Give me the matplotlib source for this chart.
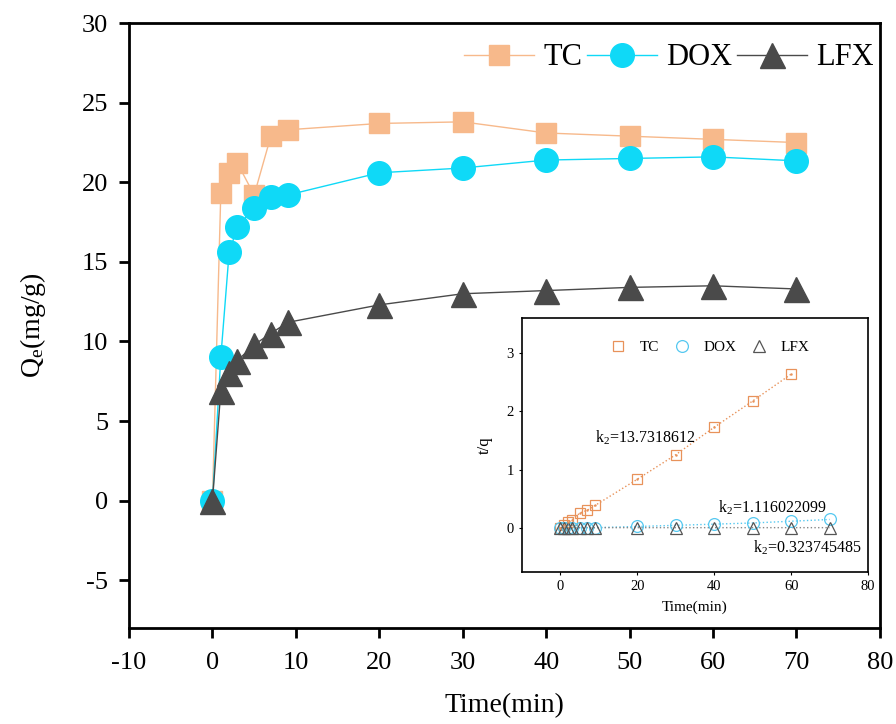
import matplotlib
matplotlib.use("Agg")
import matplotlib.pyplot as plt

plt.rcParams['font.family'] = ['Liberation Serif', 'DejaVu Serif']
plt.rcParams['mathtext.fontset'] = 'custom'
plt.rcParams['mathtext.rm'] = 'Liberation Serif'
plt.rcParams['mathtext.it'] = 'Liberation Serif:italic'
plt.rcParams['axes.unicode_minus'] = False

# ---- main data ----
time = [0, 1, 2, 3, 5, 7, 9, 20, 30, 40, 50, 60, 70]
tc = [0, 19.3, 20.6, 21.2, 19.2, 22.9, 23.3, 23.7, 23.8, 23.1, 22.9, 22.7, 22.5]
dox = [0, 9.0, 15.6, 17.2, 18.4, 19.1, 19.2, 20.6, 20.9, 21.4, 21.5, 21.6, 21.35]
lfx = [0, 6.9, 8.0, 8.8, 9.8, 10.5, 11.2, 12.3, 13.0, 13.2, 13.4, 13.5, 13.3]

# ---- inset data (t/q) ----
t_tc = [0, 1, 2, 3, 5, 7, 9, 20, 30, 40, 50, 60]
tq_tc = [0, 0.05, 0.10, 0.14, 0.26, 0.31, 0.39, 0.84, 1.26, 1.73, 2.18, 2.64]
t_dox = [0, 1, 2, 3, 5, 7, 9, 20, 30, 40, 50, 60, 70]
tq_dox = [0, 0.0, 0.0, 0.0, 0.01, 0.01, 0.01, 0.03, 0.05, 0.07, 0.09, 0.12, 0.15]
t_lfx = [0, 1, 2, 3, 5, 7, 9, 20, 30, 40, 50, 60, 70]
tq_lfx = [0, 0.01, 0.01, 0.01, 0.01, 0.01, 0.01, 0.01, 0.01, 0.01, 0.01, 0.01, 0.01]

xticks_main = [-10, 0, 10, 20, 30, 40, 50, 60, 70, 80]
yticks_main = [-5, 0, 5, 10, 15, 20, 25, 30]
xticks_inset = [0, 20, 40, 60, 80]
yticks_inset = [0, 1, 2, 3]

c_tc, c_dox, c_lfx = '#F7B98B', '#0FD9F7', '#4A4A4A'
ci_tc, ci_dox, ci_lfx = '#E8925A', '#55C8F0', '#555555'

fig = plt.figure(figsize=(8.96, 7.24), dpi=100)
ax = fig.add_axes([0.144, 0.1326, 0.838, 0.8354])

ax.plot(time, tc, '-', color=c_tc, lw=1, marker='s', ms=15, mec=c_tc, mfc=c_tc, label='TC', zorder=3)
ax.plot(time, dox, '-', color=c_dox, lw=1, marker='o', ms=17, mec=c_dox, mfc=c_dox, label='DOX', zorder=4)
ax.plot(time, lfx, '-', color=c_lfx, lw=1, marker='^', ms=18, mec=c_lfx, mfc=c_lfx, label='LFX', zorder=5)

ax.set_xlim(-10, 80)
ax.set_ylim(-8, 30)
ax.set_xticks(xticks_main)
ax.set_yticks(yticks_main)
ax.tick_params(direction='out', length=7, width=2, labelsize=19, top=False, right=False)
ax.tick_params(axis='x', pad=10)
ax.tick_params(axis='y', pad=8)
for s in ax.spines.values():
    s.set_linewidth(2)
ax.set_xlabel('Time(min)', fontsize=20, labelpad=14)
ax.set_ylabel('Q$_\\mathrm{e}$(mg/g)', fontsize=20, labelpad=24)

leg = ax.legend(loc='upper right', ncol=3, frameon=False, fontsize=22,
                handlelength=2.3, columnspacing=0.15, handletextpad=0.3,
                borderaxespad=0.1, bbox_to_anchor=(1.012, 0.992))

# ---- inset ----
ins = fig.add_axes([0.5826, 0.2099, 0.3862, 0.3508])
ins.plot(t_tc, tq_tc, ':', color=ci_tc, lw=1)
ins.plot(t_dox, tq_dox, ':', color=ci_dox, lw=1)
ins.plot(t_lfx, tq_lfx, ':', color='#888888', lw=1)
ins.plot(t_tc, tq_tc, 's', ms=7.5, mfc='none', mec=ci_tc, mew=0.9, label='TC', ls='none')
ins.plot(t_dox, tq_dox, 'o', ms=8.5, mfc='none', mec=ci_dox, mew=0.9, label='DOX', ls='none')
ins.plot(t_lfx, tq_lfx, '^', ms=8.5, mfc='none', mec=ci_lfx, mew=0.9, label='LFX', ls='none')
ins.plot(t_tc, tq_tc, '.', ms=1.5, color=ci_tc)
ins.set_xlim(-10, 80)
ins.set_ylim(-0.75, 3.6)
ins.set_xticks(xticks_inset)
ins.set_yticks(yticks_inset)
ins.tick_params(direction='out', length=2, width=0.8, labelsize=10.5, pad=4)
for s in ins.spines.values():
    s.set_linewidth(1.2)
ins.set_xlabel('Time(min)', fontsize=11, labelpad=5)
ins.set_ylabel('t/q', fontsize=12, labelpad=10)
ins.legend(loc='upper right', ncol=3, frameon=False, fontsize=11, handlelength=1.0,
           columnspacing=1.0, handletextpad=0.9, bbox_to_anchor=(0.87, 0.965))
ins.text(9, 1.47, 'k$_2$=13.7318612', fontsize=11.5)
ins.text(41, 0.27, 'k$_2$=1.116022099', fontsize=11.5)
ins.text(50, -0.42, 'k$_2$=0.323745485', fontsize=11.5)

fig.savefig('out.png', dpi=100)
